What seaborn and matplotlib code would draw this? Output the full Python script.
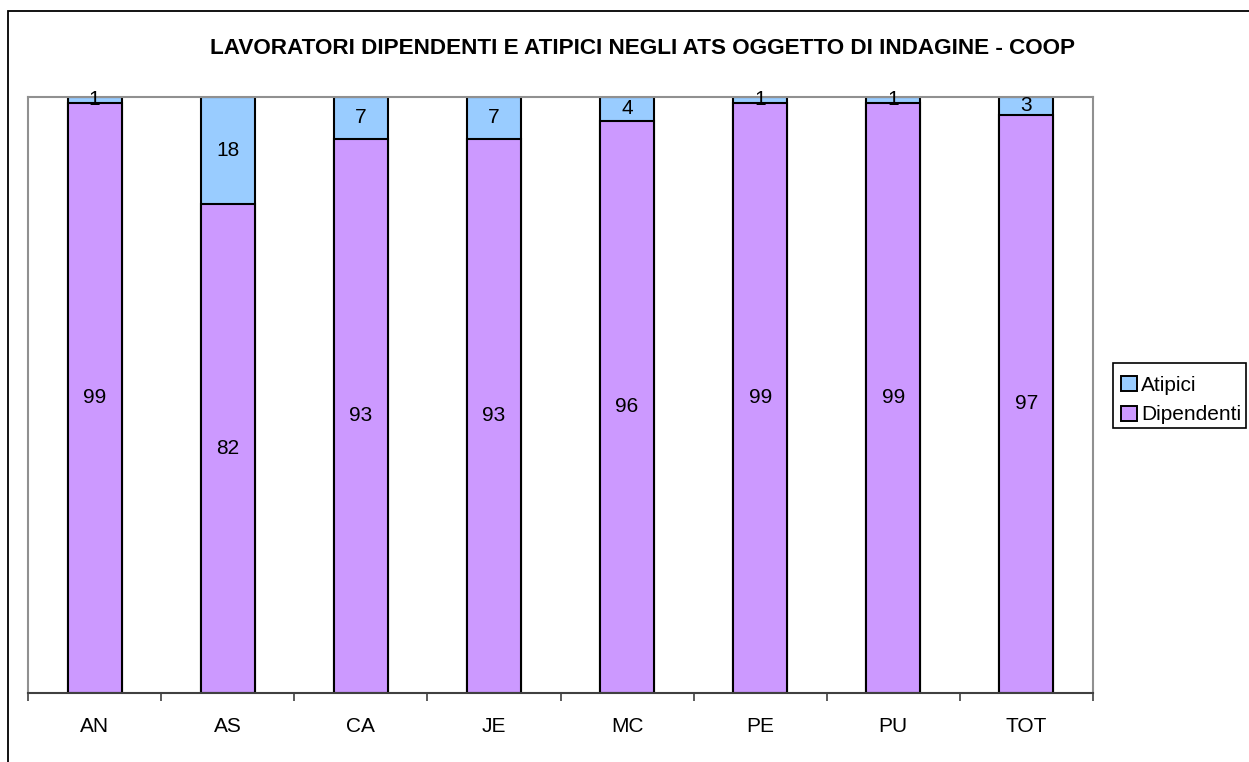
import matplotlib
matplotlib.use("Agg")
import matplotlib.pyplot as plt
from matplotlib.patches import Rectangle, Patch
import seaborn as sns
import pandas as pd

# Share of workers per ATS (percent)
categories = ["AN", "AS", "CA", "JE", "MC", "PE", "PU", "TOT"]
dipendenti = [99, 82, 93, 93, 96, 99, 99, 97]
atipici = [1, 18, 7, 7, 4, 1, 1, 3]

title = "LAVORATORI DIPENDENTI E ATIPICI NEGLI ATS OGGETTO DI INDAGINE - COOP"
color_atip = "#99CCFF"
color_dip = "#CC99FF"

sns.set_theme(style="white")
plt.rcParams["font.family"] = ["Liberation Sans", "DejaVu Sans"]
plt.rcParams["text.color"] = "black"
plt.rcParams["xtick.color"] = "black"
plt.rcParams["xtick.labelcolor"] = "black"

W, H = 1249, 762
fig = plt.figure(figsize=(W / 100, H / 100), dpi=100)
ax = fig.add_axes([28 / W, 1 - 693 / H, (1093 - 28) / W, (693 - 97) / H])

df = pd.DataFrame({
    "ats": categories,
    "dip": dipendenti,
    "tot": [d + a for d, a in zip(dipendenti, atipici)],
})

bar_w = 0.405
sns.barplot(data=df, x="ats", y="tot", color=color_atip, saturation=1,
            width=bar_w, edgecolor="black", linewidth=1.5, ax=ax)
sns.barplot(data=df, x="ats", y="dip", color=color_dip, saturation=1,
            width=bar_w, edgecolor="black", linewidth=1.5, ax=ax)

# Segment value labels
for i, (d, a) in enumerate(zip(dipendenti, atipici)):
    ax.text(i, d / 2, f"{d}", ha="center", va="center", fontsize=15, color="black")
    ax.text(i, d + a / 2, f"{a}", ha="center", va="center", fontsize=15, color="black")

ax.set_xlim(-0.5, len(categories) - 0.5)
ax.set_ylim(0, 100)
ax.set_xlabel("")
ax.set_ylabel("")
ax.set_yticks([])

# Category labels centred, tick marks at category boundaries
ax.set_xticks(range(len(categories)))
ax.set_xticklabels(categories, fontsize=15, color="black")
ax.tick_params(axis="x", which="major", length=0, pad=17)
ax.set_xticks([i - 0.5 for i in range(len(categories) + 1)], minor=True)
ax.tick_params(axis="x", which="minor", length=6, width=1.2, color="#404040",
               direction="out", bottom=True)

for side in ["left", "top", "right"]:
    ax.spines[side].set_color("#909090")
    ax.spines[side].set_linewidth(1.5)
    ax.spines[side].set_visible(True)
ax.spines["bottom"].set_color("#404040")
ax.spines["bottom"].set_linewidth(1.5)
ax.spines["bottom"].set_visible(True)

fig.text(642 / W, 1 - 48 / H, title, ha="center", va="center",
         fontsize=16.2, fontweight="bold", color="black")

# Chart frame
fig.add_artist(Rectangle((8 / W, -0.2), 2.0, (H - 11) / H + 0.2,
                         transform=fig.transFigure, fill=False,
                         edgecolor="black", linewidth=1.3))

# Legend entries, with a tight box drawn around them
handles = [Patch(facecolor=color_atip, edgecolor="black", linewidth=1.4, label="Atipici"),
           Patch(facecolor=color_dip, edgecolor="black", linewidth=1.4, label="Dipendenti")]
leg = fig.legend(handles=handles, loc="upper left",
                 bbox_to_anchor=(1121 / W, 1 - 376 / H), fontsize=15,
                 frameon=False, handlelength=0.75, handleheight=0.75,
                 handletextpad=0.2, borderpad=0, labelspacing=0.5,
                 borderaxespad=0)
for t in leg.get_texts():
    t.set_color("black")
fig.add_artist(Rectangle((1113 / W, 1 - 428 / H), (1246 - 1113) / W, (428 - 363) / H,
                         transform=fig.transFigure, fill=False,
                         edgecolor="black", linewidth=1.2))

fig.savefig("out.png", dpi=100)
